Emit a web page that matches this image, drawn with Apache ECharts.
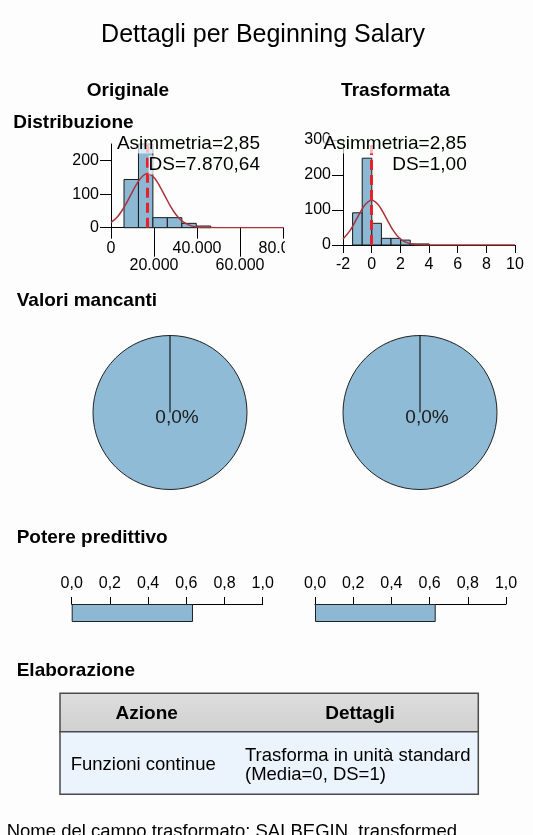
<!DOCTYPE html>
<html><head><meta charset="utf-8">
<script src="https://cdn.jsdelivr.net/npm/echarts@6/dist/echarts.min.js"></script>
<style>html,body{margin:0;padding:0;background:#fcfdfc;}#c{width:533px;height:835px;}</style>
</head><body><div id="c"></div>
<script>
// ---------------- data ----------------
const origBinEdges = [6050, 12770, 19490, 26210, 32930, 39650, 46370];
const origCounts   = [144, 250, 30, 30, 13, 5];
const origCurveX   = [0,2500,5000,7500,10000,12500,15000,17000,20000,22500,25000,27500,30000,32500,35000,37500,40000,45000,50000,60000,70000,80000];
const origCurveY   = [16,29,50,77,108,136,156,161,150,126,96,66,41,23,12,5.5,2.3,0.3,0,0,0,0];
const origMean = 17016;
const origSkew = 2.85;
const origSD = 7870.64;

const transBinEdges = [-1.33, -0.66, 0.01, 0.68, 1.35, 2.02, 2.69, 3.36, 4.03];
const transCounts   = [92, 248, 62, 19, 19, 14, 3, 3];
const transCurveX   = [-2,-1.5,-1,-0.5,0,0.5,1,1.5,2,2.5,3,3.5,4,5,6,8,10];
const transCurveY   = [17,42,78,113,128,113,78,42,17,6,1.5,0.3,0,0,0,0,0];
const transMean = 0;
const transSkew = 2.85;
const transSD = 1.00;

const origXTicksA = [0, 40000, 80000];
const origXTicksB = [20000, 60000];
const origYTicks  = [0, 100, 200];

const missingPct   = [0.0, 0.0];      // Originale, Trasformata
const validPct     = [100, 100];

const predictivePower = [0.635, 0.632]; // Originale, Trasformata

const tableHeader = ['Azione', 'Dettagli'];
const tableRow    = ['Funzioni continue', 'Trasforma in unità standard\n(Media=0, DS=1)'];

// ---------------- helpers ----------------
const FONT = '"Liberation Sans", Arial, sans-serif';
const BAR = '#8cb8d4';
const PIE = '#8fbbd6';
const BG = '#fcfdfc';
function itNum(v, dec) {
  const s = Number(v).toFixed(dec || 0);
  const parts = s.split('.');
  const i = parts[0].replace(/\B(?=(\d{3})+(?!\d))/g, '.');
  return parts[1] ? i + ',' + parts[1] : i;
}
function histItem(params, api) {
  const p0 = api.coord([api.value(0), api.value(2)]);
  const p1 = api.coord([api.value(1), 0]);
  return {type: 'rect', shape: {x: p0[0], y: p0[1], width: p1[0] - p0[0], height: p1[1] - p0[1]},
    style: {fill: BAR, stroke: '#1a1a1a', lineWidth: 1}};
}
const axisTxt = {color: '#000', fontSize: 16, fontFamily: FONT};
const blackLine = {show: true, onZero: false, lineStyle: {color: '#000', width: 1}};
function tick(len, extra) { return Object.assign({show: true, length: len, lineStyle: {color: '#000', width: 1}}, extra || {}); }

function txt(text, x, y, opts) {
  opts = opts || {};
  return {type: 'text', x: x, y: y, z: 100, silent: true, style: Object.assign({
    text: text, fill: '#000', font: (opts.bold ? 'bold ' : '') + (opts.size || 19) + 'px ' + FONT,
    align: opts.align || 'left', verticalAlign: 'middle'
  }, opts.style || {})};
}
const boxBg = 'rgba(252,253,252,0.7)';

const chart = echarts.init(document.getElementById('c'), null, {renderer: 'canvas'});
const option = {
  backgroundColor: BG,
  animation: false,
  grid: [
    {left: 111, top: 144, width: 172, height: 83.7},
    {left: 343, top: 140, width: 172, height: 105},
    {left: 71.7, top: 604, width: 191, height: 18},
    {left: 315, top: 604, width: 191, height: 18}
  ],
  xAxis: [
    {gridIndex: 0, type: 'value', position: 'bottom', offset: 0, min: 0, max: 80000, axisLine: blackLine, splitLine: {show: false},
      axisTick: tick(11, {customValues: origXTicksA}),
      axisLabel: Object.assign({customValues: origXTicksA, margin: 13, formatter: v => itNum(v)}, axisTxt)},
    {gridIndex: 0, type: 'value', position: 'bottom', offset: 0, min: 0, max: 80000, axisLine: {show: false, onZero: false}, splitLine: {show: false},
      axisTick: tick(29, {customValues: origXTicksB}),
      axisLabel: Object.assign({customValues: origXTicksB, margin: 30, formatter: v => itNum(v)}, axisTxt)},
    {gridIndex: 1, type: 'value', position: 'bottom', min: -2, max: 10, interval: 2, axisLine: blackLine, splitLine: {show: false},
      axisTick: tick(8),
      axisLabel: Object.assign({margin: 12}, axisTxt)},
    {gridIndex: 2, type: 'value', position: 'top', min: 0, max: 1, interval: 0.2, axisLine: blackLine, splitLine: {show: false},
      axisTick: tick(7),
      axisLabel: Object.assign({margin: 12, formatter: v => itNum(v, 1)}, axisTxt)},
    {gridIndex: 3, type: 'value', position: 'top', min: 0, max: 1, interval: 0.2, axisLine: blackLine, splitLine: {show: false},
      axisTick: tick(7),
      axisLabel: Object.assign({margin: 12, formatter: v => itNum(v, 1)}, axisTxt)}
  ],
  yAxis: [
    {gridIndex: 0, type: 'value', min: 0, max: 250, axisLine: blackLine, splitLine: {show: false},
      axisTick: tick(11, {customValues: origYTicks}),
      axisLabel: Object.assign({customValues: origYTicks, margin: 12}, axisTxt)},
    {gridIndex: 1, type: 'value', min: 0, max: 300, interval: 100, axisLine: blackLine, splitLine: {show: false},
      axisTick: tick(11),
      axisLabel: Object.assign({margin: 12}, axisTxt)},
    {gridIndex: 2, type: 'category', data: ['pp'], show: false},
    {gridIndex: 3, type: 'category', data: ['pp'], show: false}
  ],
  series: [
    {type: 'custom', xAxisIndex: 0, yAxisIndex: 0, renderItem: histItem, encode: {x: [0, 1], y: 2},
      data: origCounts.map((c, i) => [origBinEdges[i], origBinEdges[i + 1], c]), silent: true},
    {type: 'line', xAxisIndex: 0, yAxisIndex: 0, smooth: 0.3, showSymbol: false, silent: true,
      lineStyle: {color: '#a8343a', width: 1.5}, z: 3,
      data: origCurveX.map((x, i) => [x, origCurveY[i]]),
      markLine: {silent: true, symbol: ['none', 'none'], label: {show: false},
        lineStyle: {color: '#e8202a', width: 3, type: [10, 5]}, data: [{xAxis: origMean}]}},
    {type: 'custom', xAxisIndex: 2, yAxisIndex: 1, renderItem: histItem, encode: {x: [0, 1], y: 2},
      data: transCounts.map((c, i) => [transBinEdges[i], transBinEdges[i + 1], c]), silent: true},
    {type: 'line', xAxisIndex: 2, yAxisIndex: 1, smooth: 0.3, showSymbol: false, silent: true,
      lineStyle: {color: '#a8343a', width: 1.5}, z: 3,
      data: transCurveX.map((x, i) => [x, transCurveY[i]]),
      markLine: {silent: true, symbol: ['none', 'none'], label: {show: false},
        lineStyle: {color: '#e8202a', width: 3, type: [10, 5]}, data: [{xAxis: transMean}]}},
    ...[170, 420].map((cx, k) => ({
      type: 'pie', center: [cx, 412.5], radius: 77, startAngle: 90, clockwise: true, silent: true,
      label: {show: false}, labelLine: {show: false}, emphasis: {disabled: true},
      itemStyle: {color: PIE, borderColor: '#222', borderWidth: 1},
      data: [
        {name: 'Mancanti', value: missingPct[k],
          label: {show: true, position: 'center', fontSize: 19, fontFamily: FONT, color: '#1a1a1a',
            padding: [0, 0, 0, 14], offset: [0, 5], formatter: () => itNum(missingPct[k], 1) + '%'}},
        {name: 'Validi', value: validPct[k]}
      ]
    })),
    {type: 'bar', xAxisIndex: 3, yAxisIndex: 2, data: [predictivePower[0]], barWidth: 18, silent: true,
      itemStyle: {color: BAR, borderColor: '#222', borderWidth: 1}},
    {type: 'bar', xAxisIndex: 4, yAxisIndex: 3, data: [predictivePower[1]], barWidth: 18, silent: true,
      itemStyle: {color: BAR, borderColor: '#222', borderWidth: 1}}
  ],
  graphic: [
    txt('Dettagli per Beginning Salary', 263, 35, {size: 25, align: 'center'}),
    txt('Originale', 128, 90.7, {bold: true, align: 'center'}),
    txt('Trasformata', 395.5, 90.7, {bold: true, align: 'center'}),
    txt('Distribuzione', 13.3, 123, {bold: true}),
    txt('Asimmetria=' + itNum(origSkew, 2), 260, 144, {align: 'right', style: {backgroundColor: boxBg}}),
    txt('DS=' + itNum(origSD, 2), 260, 165, {align: 'right', style: {backgroundColor: boxBg}}),
    txt('Asimmetria=' + itNum(transSkew, 2), 466.7, 144, {align: 'right', style: {backgroundColor: boxBg}}),
    txt('DS=' + itNum(transSD, 2), 466.7, 165, {align: 'right', style: {backgroundColor: boxBg}}),
    {type: 'rect', z: 90, silent: true, shape: {x: 285, y: 238, width: 30, height: 20}, style: {fill: BG}},
    txt('Valori mancanti', 16.7, 301, {bold: true}),
    txt('Potere predittivo', 16.7, 538, {bold: true}),
    txt('Elaborazione', 16.7, 670.7, {bold: true}),
    {type: 'rect', z: 95, silent: true, shape: {x: 60, y: 693.3, width: 418.3, height: 38.4},
      style: {fill: new echarts.graphic.LinearGradient(0, 0, 0, 1, [{offset: 0, color: '#dedede'}, {offset: 1, color: '#d0d0d0'}]), stroke: '#4a4a4a', lineWidth: 1.5}},
    {type: 'rect', z: 95, silent: true, shape: {x: 60, y: 731.7, width: 418.3, height: 62.6},
      style: {fill: '#ebf3fc', stroke: '#4a4a4a', lineWidth: 1.5}},
    txt(tableHeader[0], 146.7, 713.3, {bold: true, align: 'center'}),
    txt(tableHeader[1], 360, 713.3, {bold: true, align: 'center'}),
    txt(tableRow[0], 70.7, 765, {size: 18.5}),
    txt(tableRow[1], 245, 765.5, {size: 18.5, style: {lineHeight: 19.5}}),
    txt('Nome del campo trasformato: SALBEGIN_transformed', 6.7, 831.7, {size: 18.5})
  ]
};
chart.setOption(option);

// radial boundary line of the (zero-width) missing-values slice, taken from the pie layout
const pieLines = [];
chart.getModel().eachSeriesByType('pie', function (s) {
  const lay = s.getData().getItemLayout(0);
  if (!lay) return;
  const a = lay.startAngle;
  pieLines.push({type: 'line', z: 50, silent: true,
    shape: {x1: lay.cx, y1: lay.cy, x2: lay.cx + lay.r * Math.cos(a), y2: lay.cy + lay.r * Math.sin(a)},
    style: {stroke: '#1a1a1a', lineWidth: 1.2}});
});
chart.setOption({graphic: option.graphic.concat(pieLines)});
</script></body></html>
